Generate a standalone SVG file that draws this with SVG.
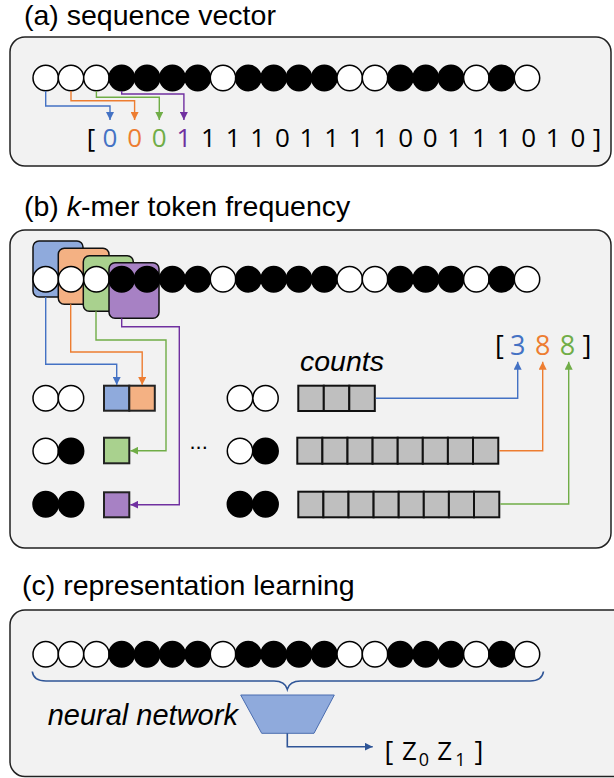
<svg xmlns="http://www.w3.org/2000/svg" width="614" height="778" viewBox="0 0 614 778">
<defs>
<style>
.panel{fill:#F2F2F2;stroke:#222;stroke-width:1.5}
.title{font-family:"Liberation Sans",Arial,sans-serif;font-size:28.5px;fill:#000}
.lbl{font-family:"Liberation Sans",Arial,sans-serif;font-style:italic;fill:#000}
.dig{font-family:"Open Sans","Noto Sans",sans-serif;font-size:26px;text-anchor:middle;fill:#000}
.w{fill:#fff;stroke:#000;stroke-width:1.5}
.b{fill:#000;stroke:#000;stroke-width:1.5}
.cell{fill:#BFBFBF;stroke:#111;stroke-width:2}
.sq{stroke:#222;stroke-width:2}
.km{stroke:#111;stroke-width:1.5}
.ln{fill:none;stroke-width:1.4}
</style>
<marker id="aB" viewBox="0 0 10 10" refX="10" refY="5" markerWidth="8" markerHeight="8" markerUnits="userSpaceOnUse" orient="auto"><path d="M0,0L10,5L0,10z" fill="#4472C4"/></marker>
<marker id="aO" viewBox="0 0 10 10" refX="10" refY="5" markerWidth="8" markerHeight="8" markerUnits="userSpaceOnUse" orient="auto"><path d="M0,0L10,5L0,10z" fill="#ED7D31"/></marker>
<marker id="aG" viewBox="0 0 10 10" refX="10" refY="5" markerWidth="8" markerHeight="8" markerUnits="userSpaceOnUse" orient="auto"><path d="M0,0L10,5L0,10z" fill="#70AD47"/></marker>
<marker id="aP" viewBox="0 0 10 10" refX="10" refY="5" markerWidth="8" markerHeight="8" markerUnits="userSpaceOnUse" orient="auto"><path d="M0,0L10,5L0,10z" fill="#7030A0"/></marker>
<marker id="aD" viewBox="0 0 10 10" refX="10" refY="5" markerWidth="8" markerHeight="8" markerUnits="userSpaceOnUse" orient="auto"><path d="M0,0L10,5L0,10z" fill="#2F5597"/></marker>
<g id="seq">
<circle class="w" cx="45.7" cy="0" r="12.7"/><circle class="w" cx="71" cy="0" r="12.7"/><circle class="w" cx="96.4" cy="0" r="12.7"/>
<circle class="b" cx="121.7" cy="0" r="12.7"/><circle class="b" cx="147" cy="0" r="12.7"/><circle class="b" cx="172.4" cy="0" r="12.7"/><circle class="b" cx="197.7" cy="0" r="12.7"/>
<circle class="w" cx="223" cy="0" r="12.7"/>
<circle class="b" cx="248.3" cy="0" r="12.7"/><circle class="b" cx="273.7" cy="0" r="12.7"/><circle class="b" cx="299" cy="0" r="12.7"/><circle class="b" cx="324.3" cy="0" r="12.7"/>
<circle class="w" cx="349.7" cy="0" r="12.7"/><circle class="w" cx="375" cy="0" r="12.7"/>
<circle class="b" cx="400.3" cy="0" r="12.7"/><circle class="b" cx="425.7" cy="0" r="12.7"/><circle class="b" cx="451" cy="0" r="12.7"/>
<circle class="w" cx="476.3" cy="0" r="12.7"/>
<circle class="b" cx="501.6" cy="0" r="12.7"/>
<circle class="w" cx="527" cy="0" r="12.7"/>
</g>
</defs>

<!-- Panel (a) -->
<g id="panel-a">
<text class="title" x="24" y="24.5">(a) sequence vector</text>
<rect class="panel" x="10" y="37" width="601" height="129" rx="15"/>
<use href="#seq" y="78"/>
<g id="vector-a">
<text class="dig" x="91" y="147">[</text>
<text class="dig" x="110" y="147" style="fill:#4472C4">0</text>
<text class="dig" x="134.6" y="147" style="fill:#ED7D31">0</text>
<text class="dig" x="159.3" y="147" style="fill:#70AD47">0</text>
<text class="dig" x="183.9" y="147" style="fill:#7030A0">1</text>
<text class="dig" x="208.5" y="147">1</text>
<text class="dig" x="233.2" y="147">1</text>
<text class="dig" x="257.8" y="147">1</text>
<text class="dig" x="282.4" y="147">0</text>
<text class="dig" x="307" y="147">1</text>
<text class="dig" x="331.7" y="147">1</text>
<text class="dig" x="356.3" y="147">1</text>
<text class="dig" x="380.9" y="147">1</text>
<text class="dig" x="405.6" y="147">0</text>
<text class="dig" x="430.2" y="147">0</text>
<text class="dig" x="454.8" y="147">1</text>
<text class="dig" x="479.5" y="147">1</text>
<text class="dig" x="504.1" y="147">1</text>
<text class="dig" x="528.7" y="147">0</text>
<text class="dig" x="553.3" y="147">1</text>
<text class="dig" x="578" y="147">0</text>
<text class="dig" x="597" y="147">]</text>
</g>
</g>

<!-- Panel (b) -->
<g id="panel-b">
<text class="title" x="24" y="216">(b) <tspan font-style="italic">k</tspan>-mer token frequency</text>
<rect class="panel" x="10" y="230" width="601" height="318" rx="15"/>
<g id="kmer-windows">
<rect class="km" x="33" y="241" width="50" height="56" rx="6" fill="#8FAADC"/>
<rect class="km" x="58.3" y="248.3" width="50.7" height="56" rx="6" fill="#F4B183"/>
<rect class="km" x="83.3" y="255.7" width="50" height="55.5" rx="6" fill="#A9D18E"/>
<rect class="km" x="109" y="262.7" width="50" height="55.6" rx="6" fill="#A781C4"/>
</g>
<use href="#seq" y="279.3"/>
<g id="kmer-table">
<circle class="w" cx="45.7" cy="398.3" r="12.7"/><circle class="w" cx="71" cy="398.3" r="12.7"/>
<circle class="w" cx="45.7" cy="451" r="12.7"/><circle class="b" cx="71" cy="451" r="12.7"/>
<circle class="b" cx="45.7" cy="504.3" r="12.7"/><circle class="b" cx="71" cy="504.3" r="12.7"/>
<rect class="sq" x="104" y="385.7" width="25.3" height="25" fill="#8FAADC"/>
<rect class="sq" x="129.3" y="385.7" width="25.5" height="25" fill="#F4B183"/>
<rect class="sq" x="104" y="437.7" width="25.3" height="25.6" fill="#A9D18E"/>
<rect class="sq" x="104" y="492.3" width="25.3" height="25" fill="#A781C4"/>
<text x="189.5" y="448.5" style="font-family:'Liberation Sans',Arial,sans-serif;font-size:22px">...</text>
<circle class="w" cx="240" cy="398.3" r="12.7"/><circle class="w" cx="265.5" cy="398.3" r="12.7"/>
<circle class="w" cx="240" cy="451" r="12.7"/><circle class="b" cx="265.5" cy="451" r="12.7"/>
<circle class="b" cx="240" cy="504.3" r="12.7"/><circle class="b" cx="265.5" cy="504.3" r="12.7"/>
</g>
<g id="counts">
<text class="lbl" x="300" y="370.7" font-size="28.5">counts</text>
<rect class="cell" x="298.3" y="385.7" width="25.5" height="25.3"/><rect class="cell" x="323.8" y="385.7" width="25.5" height="25.3"/><rect class="cell" x="349.3" y="385.7" width="25.5" height="25.3"/>
<rect class="cell" x="297.3" y="437.7" width="25.1" height="26"/><rect class="cell" x="322.4" y="437.7" width="25.1" height="26"/><rect class="cell" x="347.5" y="437.7" width="25.1" height="26"/><rect class="cell" x="372.6" y="437.7" width="25.1" height="26"/><rect class="cell" x="397.7" y="437.7" width="25.1" height="26"/><rect class="cell" x="422.8" y="437.7" width="25.1" height="26"/><rect class="cell" x="447.9" y="437.7" width="25.1" height="26"/><rect class="cell" x="473" y="437.7" width="25.3" height="26"/>
<rect class="cell" x="298.3" y="491.7" width="25.1" height="25.6"/><rect class="cell" x="323.4" y="491.7" width="25.1" height="25.6"/><rect class="cell" x="348.5" y="491.7" width="25.1" height="25.6"/><rect class="cell" x="373.6" y="491.7" width="25.1" height="25.6"/><rect class="cell" x="398.7" y="491.7" width="25.1" height="25.6"/><rect class="cell" x="423.8" y="491.7" width="25.1" height="25.6"/><rect class="cell" x="448.9" y="491.7" width="25.1" height="25.6"/><rect class="cell" x="474" y="491.7" width="25.3" height="25.6"/>
</g>
<g id="freq-vector">
<text class="dig" x="499.5" y="354.5" style="font-size:27px">[</text>
<text class="dig" x="517.7" y="354.5" style="fill:#4472C4;font-size:27px">3</text>
<text class="dig" x="542.7" y="354.5" style="fill:#ED7D31;font-size:27px">8</text>
<text class="dig" x="567.5" y="354.5" style="fill:#70AD47;font-size:27px">8</text>
<text class="dig" x="587" y="354.5" style="font-size:27px">]</text>
</g>
</g>

<!-- Panel (c) -->
<g id="panel-c">
<text class="title" x="22" y="595">(c) representation learning</text>
<rect class="panel" x="10" y="610" width="640" height="166.5" rx="15"/>
<use href="#seq" y="654.3"/>
<path d="M32.3,671.5 Q33.5,681 46,681 H274 Q285,681 287.3,689.3 Q289.6,681 300.6,681 H530 Q542,681 543.5,671.5" fill="none" stroke="#2F5597" stroke-width="1.6"/>
<g id="neural-network">
<polygon points="240.7,695 334.3,695 314,733.3 261.7,733.3" fill="#8FAADC" stroke="#4A6DB0" stroke-width="1"/>
<text class="lbl" x="47.7" y="725" font-size="29">neural network</text>
</g>
<g id="latent" style="font-family:'Open Sans','Noto Sans',sans-serif;fill:#000">
<text x="389" y="761" font-size="27" text-anchor="middle">[</text>
<text x="409.5" y="760" font-size="26" text-anchor="middle">Z</text>
<text x="424" y="766" font-size="18" text-anchor="middle">0</text>
<text x="444.7" y="760" font-size="26" text-anchor="middle">Z</text>
<text x="460.5" y="766" font-size="18" text-anchor="middle">1</text>
<text x="479" y="761" font-size="27" text-anchor="middle">]</text>
</g>
</g>

<!-- Connectors -->
<g id="connectors" class="ln">
<path d="M45.7,91 V106 H110 V120" stroke="#4472C4" fill="none" stroke-width="1.4" marker-end="url(#aB)"/>
<path d="M71,91 V100.7 H134.6 V120" stroke="#ED7D31" fill="none" stroke-width="1.4" marker-end="url(#aO)"/>
<path d="M96.4,91 V97.3 H159.3 V120" stroke="#70AD47" fill="none" stroke-width="1.4" marker-end="url(#aG)"/>
<path d="M121.7,91 V94 H183.9 V120" stroke="#7030A0" fill="none" stroke-width="1.4" marker-end="url(#aP)"/>

<path d="M45.7,297 V364.3 H116.7 V385" stroke="#4472C4" fill="none" stroke-width="1.4" marker-end="url(#aB)"/>
<path d="M70.7,304.3 V352 H142.2 V385" stroke="#ED7D31" fill="none" stroke-width="1.4" marker-end="url(#aO)"/>
<path d="M96,311.2 V340 H166 V450.7 H130.3" stroke="#70AD47" fill="none" stroke-width="1.4" marker-end="url(#aG)"/>
<path d="M121.7,318.3 V326.7 H179.3 V504.7 H130.3" stroke="#7030A0" fill="none" stroke-width="1.4" marker-end="url(#aP)"/>

<path d="M375.8,398.3 H517.7 V361.7" stroke="#4472C4" fill="none" stroke-width="1.4" marker-end="url(#aB)"/>
<path d="M499.3,450.7 H542.7 V361.7" stroke="#ED7D31" fill="none" stroke-width="1.4" marker-end="url(#aO)"/>
<path d="M500.3,504 H568.7 V361.7" stroke="#70AD47" fill="none" stroke-width="1.4" marker-end="url(#aG)"/>

<path d="M287.3,733.3 V746.7 H372.7" stroke="#2F5597" fill="none" stroke-width="1.6" marker-end="url(#aD)"/>
</g>
</svg>
